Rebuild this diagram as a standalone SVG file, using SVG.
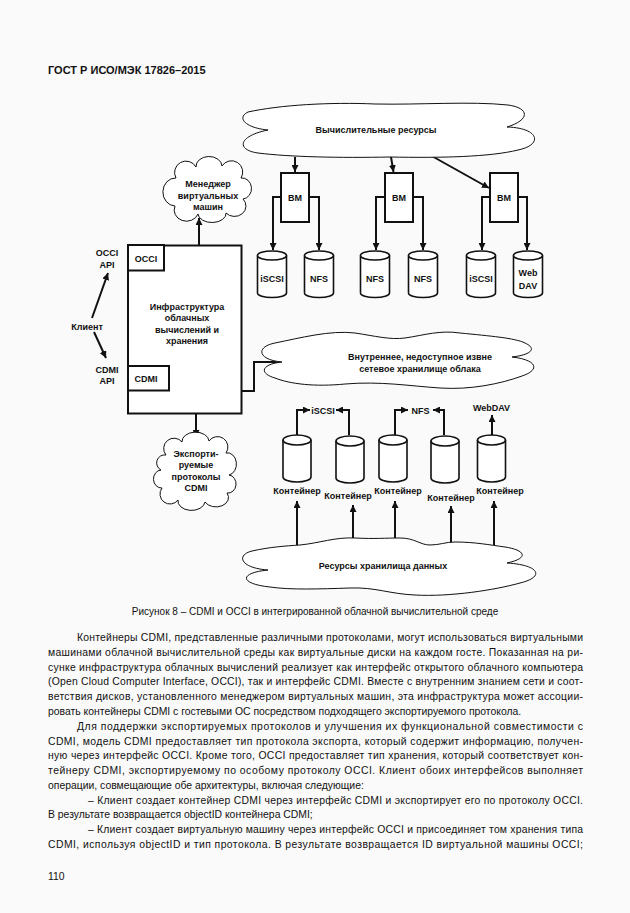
<svg xmlns="http://www.w3.org/2000/svg" xmlns:xlink="http://www.w3.org/1999/xlink" width="630" height="913" viewBox="0 0 630 913">
<style>
.bg{fill:#fafafa}
.d{font-family:"Liberation Sans",Arial,sans-serif;font-size:9px;font-weight:bold;text-anchor:middle;fill:#111}
.b{font-family:"Liberation Sans",Arial,sans-serif;font-size:10.4px;fill:#111}
.c{font-family:"Liberation Sans",Arial,sans-serif;font-size:10px;fill:#111}
.h{font-family:"Liberation Sans",Arial,sans-serif;font-size:11px;font-weight:bold;fill:#111}
.cl{fill:#fff;stroke:#111;stroke-width:1}
.bx{fill:#fff;stroke:#111;stroke-width:2}
.cy{fill:#fff;stroke:#111;stroke-width:1.6}
.ln{fill:none;stroke:#111;stroke-width:2}
.ar{fill:none;stroke:#111;stroke-width:2;marker-end:url(#ah)}
</style>
<defs>
<marker id="ah" markerUnits="userSpaceOnUse" markerWidth="8" markerHeight="7" refX="7" refY="3.5" orient="auto"><path d="M0,0 L7,3.5 L0,7 Z" fill="#111"/></marker>
<g id="cylT"><path class="cy" d="M-14.5,0 V37.5 A14.5,4.5 0 0 0 14.5,37.5 V0"/><ellipse class="cy" cx="0" cy="0" rx="14.5" ry="4.5"/></g>
<g id="cylB"><path class="cy" d="M-14,0 V37 A14,5 0 0 0 14,37 V0"/><ellipse class="cy" cx="0" cy="0" rx="14" ry="5"/></g>
</defs>
<rect class="bg" x="0" y="0" width="630" height="913"/>
<text class="h" x="48" y="74">ГОСТ Р ИСО/МЭК 17826–2015</text>

<g id="connectors">
<path class="ar" d="M295,157 V172"/>
<path class="ar" d="M390.5,154 L393.5,172"/>
<path class="ar" d="M430,155 L489,188"/>
<path class="ar" d="M281,197 H273 V250"/>
<path class="ar" d="M309,197 H319 V250"/>
<path class="ar" d="M385,197 H376 V250"/>
<path class="ar" d="M413,197 H423 V250"/>
<path class="ar" d="M490,197 H482 V250"/>
<path class="ar" d="M518,197 H527 V250"/>
<path class="ar" d="M199,245 V218"/>
<path class="ar" d="M196,414 V437"/>
<path class="ar" d="M242,391 H254 V362 H280"/>
<path class="ar" d="M92,318 L108,273"/>
<path class="ar" d="M94,332 L106,358"/>
<path class="ar" d="M297,435 V410 H310"/>
<path class="ar" d="M349,435 V410 H336"/>
<path class="ar" d="M395,435 V410 H408"/>
<path class="ar" d="M444,435 V410 H433"/>
<path class="ar" d="M492,435 V415"/>
<path class="ar" d="M297,545 V501"/>
<path class="ar" d="M353,538 V505"/>
<path class="ar" d="M395,538 V501"/>
<path class="ar" d="M451,543 V506"/>
<path class="ar" d="M494,545 V501"/>
</g>

<g id="compute-cloud">
<path class="cl" d="M268,130 C246,128 236,118 248,112 C280,105 330,102 375,104 C420,105 470,101 508,105 C530,108 530,120 507,127 C540,128 543,145 518,150 C490,157 440,158 390,157 C340,158 290,157 258,153 C236,150 238,136 268,130 Z"/>
<text class="d" x="376" y="132.5">Вычислительные ресурсы</text>
</g>

<g id="vm-manager">
<path class="cl" d="M176,178 A11,11 0 0 1 196,167 A13,10 0 0 1 222,166 A11,11 0 0 1 241,178 A9,10 0 0 1 243,199 A11,10 0 0 1 226,213 A14,9 0 0 1 198,214 A11,10 0 0 1 175,206 A9,10 0 0 1 176,178 Z"/>
<text class="d" x="208" y="187">Менеджер</text>
<text class="d" x="208" y="199">виртуальных</text>
<text class="d" x="208" y="209.5">машин</text>
</g>

<g id="vm1"><rect class="bx" x="281" y="173" width="28" height="49"/><text class="d" x="295" y="200.5">ВМ</text></g>
<g id="vm2"><rect class="bx" x="385" y="173" width="28" height="49"/><text class="d" x="399" y="200.5">ВМ</text></g>
<g id="vm3"><rect class="bx" x="490" y="173" width="28" height="49"/><text class="d" x="504" y="200.5">ВМ</text></g>

<g id="disk1"><use xlink:href="#cylT" x="272" y="255.5"/><text class="d" x="272" y="281.5">iSCSI</text></g>
<g id="disk2"><use xlink:href="#cylT" x="319" y="255.5"/><text class="d" x="319" y="281.5">NFS</text></g>
<g id="disk3"><use xlink:href="#cylT" x="375" y="255.5"/><text class="d" x="375" y="281.5">NFS</text></g>
<g id="disk4"><use xlink:href="#cylT" x="423" y="255.5"/><text class="d" x="423" y="281.5">NFS</text></g>
<g id="disk5"><use xlink:href="#cylT" x="481" y="255.5"/><text class="d" x="481" y="281.5">iSCSI</text></g>
<g id="disk6"><use xlink:href="#cylT" x="528" y="255.5"/><text class="d" x="528" y="276">Web</text><text class="d" x="528" y="289">DAV</text></g>

<g id="infrastructure">
<rect class="bx" x="128" y="245.5" width="113.5" height="168"/>
<text class="d" x="187" y="310">Инфраструктура</text>
<text class="d" x="187" y="321">облачных</text>
<text class="d" x="187" y="333">вычислений и</text>
<text class="d" x="187" y="344">хранения</text>
</g>
<g id="occi"><rect class="bx" x="128" y="245" width="36" height="25.5"/><text class="d" x="146" y="261.5">OCCI</text></g>
<g id="cdmi"><rect class="bx" x="128" y="366" width="41" height="24.5"/><text class="d" x="146" y="381.5">CDMI</text></g>

<g id="occi-api"><text class="d" x="107" y="256">OCCI</text><text class="d" x="107" y="267.5">API</text></g>
<g id="client"><text class="d" x="87" y="330">Клиент</text></g>
<g id="cdmi-api"><text class="d" x="107" y="372.5">CDMI</text><text class="d" x="107" y="384">API</text></g>

<g id="internal-cloud">
<path class="cl" d="M282,362 C258,360 255,347 275,343 C300,338 330,330 355,333 C375,336 390,340 405,338 C425,335 440,330 460,333 C490,336 515,338 525,343 C538,349 530,355 512,357 C538,360 540,370 522,376 C500,384 470,390 440,388 C410,386 380,381 345,384 C315,387 290,384 275,378 C258,373 262,364 282,362 Z"/>
<text class="d" x="420" y="360">Внутреннее, недоступное извне</text>
<text class="d" x="420" y="371.5">сетевое хранилище облака</text>
</g>

<g id="export-cloud">
<path class="cl" d="M166,455 A10,10 0 0 1 182,442 A13,9 0 0 1 209,441 A10,10 0 0 1 226,453 A8,10 0 0 1 229,475 A8,9 0 0 1 227,493 A12,9 0 0 1 205,502 A13,9 0 0 1 178,500 A9,9 0 0 1 162,488 A8,9 0 0 1 161,470 A8,8 0 0 1 166,455 Z"/>
<text class="d" x="196" y="457">Экспорти-</text>
<text class="d" x="196" y="468">руемые</text>
<text class="d" x="196" y="479.5">протоколы</text>
<text class="d" x="196" y="491">CDMI</text>
</g>

<g id="iscsi-label"><text class="d" x="323" y="413.5">iSCSI</text></g>
<g id="nfs-label"><text class="d" x="420.5" y="413.5">NFS</text></g>
<g id="webdav-label"><text class="d" x="491.5" y="411">WebDAV</text></g>

<g id="container1"><use xlink:href="#cylB" x="297" y="440"/><text class="d" x="297" y="493.5">Контейнер</text></g>
<g id="container2"><use xlink:href="#cylB" x="350" y="441"/><text class="d" x="348" y="498.5">Контейнер</text></g>
<g id="container3"><use xlink:href="#cylB" x="393" y="440"/><text class="d" x="398" y="493.5">Контейнер</text></g>
<g id="container4"><use xlink:href="#cylB" x="445" y="441"/><text class="d" x="451" y="501">Контейнер</text></g>
<g id="container5"><use xlink:href="#cylB" x="491.5" y="440"/><text class="d" x="500" y="494">Контейнер</text></g>

<g id="storage-cloud">
<path class="cl" d="M268,570 C240,568 236,555 252,551 C270,547 285,546 300,545 C320,543 335,537 355,538 C375,539 385,538 400,538 C415,538 420,545 430,545 C440,545 445,542 455,542 C475,542 490,545 505,547 C525,550 530,558 507,563 C540,565 545,577 520,583 C495,590 450,597 415,595 C390,594 375,587 350,588 C320,589 290,590 270,587 C240,584 238,573 268,570 Z"/>
<text class="d" x="383" y="568.5">Ресурсы хранилища данных</text>
</g>

<text class="c" x="315" y="614.5" text-anchor="middle">Рисунок 8 – CDMI и OCCI в интегрированной облачной вычислительной среде</text>

<text class="b" x="77" y="641" textLength="506" lengthAdjust="spacing">Контейнеры CDMI, представленные различными протоколами, могут использоваться виртуальными</text>
<text class="b" x="48" y="656" textLength="535" lengthAdjust="spacing">машинами облачной вычислительной среды как виртуальные диски на каждом госте. Показанная на ри-</text>
<text class="b" x="48" y="670.5" textLength="535" lengthAdjust="spacing">сунке инфраструктура облачных вычислений реализует как интерфейс открытого облачного компьютера</text>
<text class="b" x="48" y="685" textLength="535" lengthAdjust="spacing">(Open Cloud Computer Interface, OCCI), так и интерфейс CDMI. Вместе с внутренним знанием сети и соот-</text>
<text class="b" x="48" y="700" textLength="535" lengthAdjust="spacing">ветствия дисков, установленного менеджером виртуальных машин, эта инфраструктура может ассоции-</text>
<text class="b" x="48" y="715">ровать контейнеры CDMI с гостевыми ОС посредством подходящего экспортируемого протокола.</text>
<text class="b" x="77" y="729.5" textLength="506" lengthAdjust="spacing">Для поддержки экспортируемых протоколов и улучшения их функциональной совместимости с</text>
<text class="b" x="48" y="744.5" textLength="535" lengthAdjust="spacing">CDMI, модель CDMI предоставляет тип протокола экспорта, который содержит информацию, получен-</text>
<text class="b" x="48" y="759" textLength="535" lengthAdjust="spacing">ную через интерфейс OCCI. Кроме того, OCCI предоставляет тип хранения, который соответствует кон-</text>
<text class="b" x="48" y="774" textLength="535" lengthAdjust="spacing">тейнеру CDMI, экспортируемому по особому протоколу OCCI. Клиент обоих интерфейсов выполняет</text>
<text class="b" x="48" y="788.5">операции, совмещающие обе архитектуры, включая следующие:</text>
<text class="b" x="88" y="803.5" textLength="495" lengthAdjust="spacing">– Клиент создает контейнер CDMI через интерфейс CDMI и экспортирует его по протоколу OCCI.</text>
<text class="b" x="48" y="818">В результате возвращается objectID контейнера CDMI;</text>
<text class="b" x="88" y="833" textLength="495" lengthAdjust="spacing">– Клиент создает виртуальную машину через интерфейс OCCI и присоединяет том хранения типа</text>
<text class="b" x="48" y="847.5" textLength="535" lengthAdjust="spacing">CDMI, используя objectID и тип протокола. В результате возвращается ID виртуальной машины OCCI;</text>
<text class="b" x="48" y="880">110</text>
</svg>
